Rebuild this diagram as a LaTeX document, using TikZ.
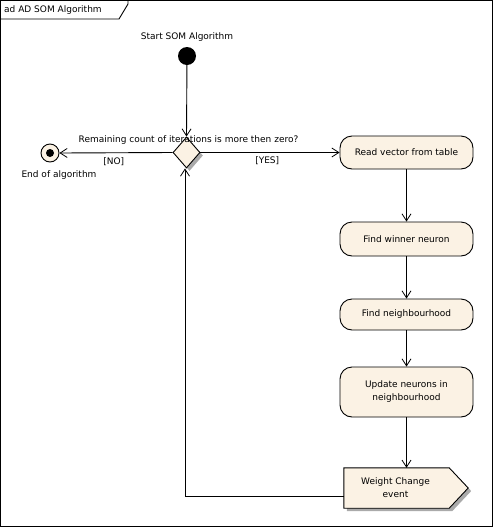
\documentclass[tikz,border=0pt]{standalone}
\usepackage{fontspec}
\setmainfont{DejaVu Sans}
\usetikzlibrary{arrows.meta,shapes.geometric,shadows,calc}
\definecolor{actfill}{RGB}{251,242,228}
\definecolor{shadowgray}{RGB}{170,170,170}
\begin{document}
\begin{tikzpicture}[x=1pt,y=-1pt,
  every node/.style={font=\fontsize{9}{13}\selectfont, inner sep=0pt},
  line/.style={draw=black, line width=0.9pt},
  arr/.style={line, -{Straight Barb[length=7pt,width=9pt,line width=0.8pt]}},
  action/.style={draw=black, line width=0.9pt, fill=actfill, rounded corners=12pt,
    minimum width=133pt, align=center},
  decision/.style={diamond, draw=black, line width=0.9pt, fill=actfill,
    minimum width=27pt, minimum height=31pt,
    drop shadow={shadow xshift=3pt, shadow yshift=-3pt, fill=shadowgray, opacity=1}},
  lbl/.style={text=black}
]
\useasboundingbox (0,0) rectangle (494,528);
% frame
\draw[line] (0.5,0.5) rectangle (492.5,526.5);
\draw[line] (0.5,19) -- (119,19) -- (128,4) -- (128,0.5);
\node[lbl, anchor=west] (title) at (4,10) {ad AD SOM Algorithm};

% start
\node[circle, fill=black, minimum size=18pt] (start) at (187,56) {};
\node[lbl] (startlbl) at (187,37) {Start SOM Algorithm};

% decision
\node[decision] (dec) at (186.5,152.5) {};
\node[lbl] (declbl) at (188.5,140) {Remaining count of iterations is more then zero?};

% end
\node[circle, draw=black, line width=0.9pt, fill=actfill, minimum size=18pt] (end) at (50,153) {};
\node[circle, fill=black, minimum size=8pt] (enddot) at (end.center) {};
\node[lbl] (endlbl) at (59,175) {End of algorithm};

% actions
\node[action, minimum height=33pt] (read) at (406.5,152.5) {Read vector from table};
\node[action, minimum height=34pt] (win) at (406.5,239) {Find winner neuron};
\node[action, minimum height=31pt] (nbh) at (406.5,314.5) {Find neighbourhood};
\node[action, minimum height=50pt] (upd) at (406.5,392) {Update neurons in\\neighbourhood};

% event (send signal)
\node[minimum width=105pt, minimum height=40pt] (ev) at (396.5,488) {};
\fill[shadowgray] ($(ev.north west)+(3,3)$) -- ($(ev.north east)+(3,3)$) -- ($(ev.east)+(22,3)$)
  -- ($(ev.south east)+(3,3)$) -- ($(ev.south west)+(3,3)$) -- cycle;
\draw[line, fill=actfill] (ev.north west) -- (ev.north east) -- ($(ev.east)+(19,0)$)
  -- (ev.south east) -- (ev.south west) -- cycle;
\node[align=center] (evtext) at ($(ev.center)+(-1,0)$) {Weight Change\\event};

% connectors
\draw[arr] (start) -- (dec.north);
\draw[arr] (dec.west) -- (end.east) node[lbl, pos=0.52, below=4pt] (nolbl) {[NO]};
\draw[arr] (dec.east) -- (read.west) node[lbl, pos=0.48, below=4pt] (yeslbl) {[YES]};
\draw[arr] (read.south) -- (win.north);
\draw[arr] (win.south) -- (nbh.north);
\draw[arr] (nbh.south) -- (upd.north);
\draw[arr] (upd.south) -- ($(ev.north)+(10,0)$);
\coordinate (loopstart) at ($(ev.west)+(0,8)$);
\draw[arr] (loopstart) -| ($(dec.south)+(-1.5,0)$);
\end{tikzpicture}
\end{document}
